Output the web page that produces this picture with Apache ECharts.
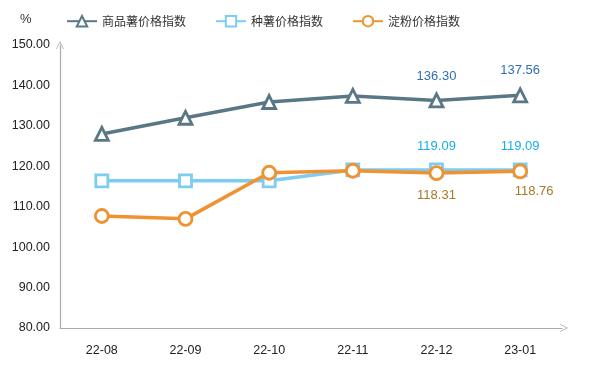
<!DOCTYPE html>
<html><head><meta charset="utf-8">
<script src="https://cdn.jsdelivr.net/npm/echarts@6/dist/echarts.min.js"></script>
<style>html,body{margin:0;padding:0;background:#fff}#c{width:594px;height:371px}</style>
</head><body><div id="c"></div>
<script>
var categories = ['22-08','22-09','22-10','22-11','22-12','23-01'];
var seriesNames = ['商品薯价格指数','种薯价格指数','淀粉价格指数'];
var commodity = [128.0, 132.0, 135.9, 137.4, 136.30, 137.56];
var seed = [116.4, 116.4, 116.4, 119.09, 119.09, 119.09];
var starch = [107.7, 107.0, 118.4, 118.9, 118.31, 118.76];
var yTicks = [80, 90, 100, 110, 120, 130, 140, 150];

var chevron = 'path://M0,10 L5,0 L10,10 L9,10 L5,2 L1,10 Z';
function withLabels(arr, labelCfg, extra) {
  return arr.map(function (v, i) {
    if (i >= 4) {
      var lc = Object.assign({show: true}, labelCfg);
      if (extra && extra[i]) Object.assign(lc, extra[i]);
      return {value: v, label: lc};
    }
    return v;
  });
}
var fmt = function (p) { return p.value.toFixed(2); };
var chart = echarts.init(document.getElementById('c'));
chart.setOption({
  animation: false,
  textStyle: {fontFamily: 'Liberation Sans, Arial, sans-serif'},
  legend: {
    top: 10, left: 61, itemWidth: 30, itemHeight: 13, itemGap: 29,
    textStyle: {fontSize: 12, color: '#333', fontFamily: 'Noto Sans CJK SC'},
    data: seriesNames
  },
  graphic: [{type: 'text', left: 20, top: 13, style: {text: '%', fontSize: 13, fill: '#333', fontFamily: 'Liberation Sans'}}],
  grid: {left: 60, right: 32, top: 45, bottom: 43},
  xAxis: {
    type: 'category', data: categories, boundaryGap: true,
    axisLine: {lineStyle: {color: '#aaa', width: 1.2}, symbol: ['none', chevron], symbolSize: [13, 8], symbolOffset: [0, 2]},
    axisTick: {show: false},
    axisLabel: {color: '#222', fontSize: 12.5, margin: 16}
  },
  yAxis: {
    type: 'value', min: 80, max: 150, interval: 10,
    axisLine: {show: true, lineStyle: {color: '#aaa', width: 1.2}, symbol: ['none', chevron], symbolSize: [13, 8]},
    axisTick: {show: false},
    splitLine: {show: false},
    axisLabel: {color: '#222', fontSize: 12.5, margin: 10, formatter: function (v) { return v.toFixed(2); }}
  },
  series: [
    {name: seriesNames[0], type: 'line', symbol: 'triangle', symbolSize: 13,
     lineStyle: {width: 3.5, color: '#5a7785'}, itemStyle: {color: '#fff', borderColor: '#5a7785', borderWidth: 2.8},
     data: withLabels(commodity, {position: 'top', distance: 10, color: '#2f6fb8', fontSize: 13, formatter: fmt}),
     z: 3},
    {name: seriesNames[1], type: 'line', symbol: 'rect', symbolSize: 12,
     lineStyle: {width: 3.5, color: '#7dcdf3'}, itemStyle: {color: '#fff', borderColor: '#7dcdf3', borderWidth: 2.8},
     data: withLabels(seed, {position: 'top', distance: 10, color: '#17aee8', fontSize: 13, formatter: fmt}),
     z: 2},
    {name: seriesNames[2], type: 'line', symbol: 'circle', symbolSize: 13,
     lineStyle: {width: 3.5, color: '#ef9231'}, itemStyle: {color: '#fff', borderColor: '#ef9231', borderWidth: 2.8},
     data: withLabels(starch, {position: 'bottom', distance: 8, color: '#a8782a', fontSize: 13, formatter: fmt}, {5: {offset: [14, -2]}}),
     z: 4}
  ]
});
</script></body></html>
